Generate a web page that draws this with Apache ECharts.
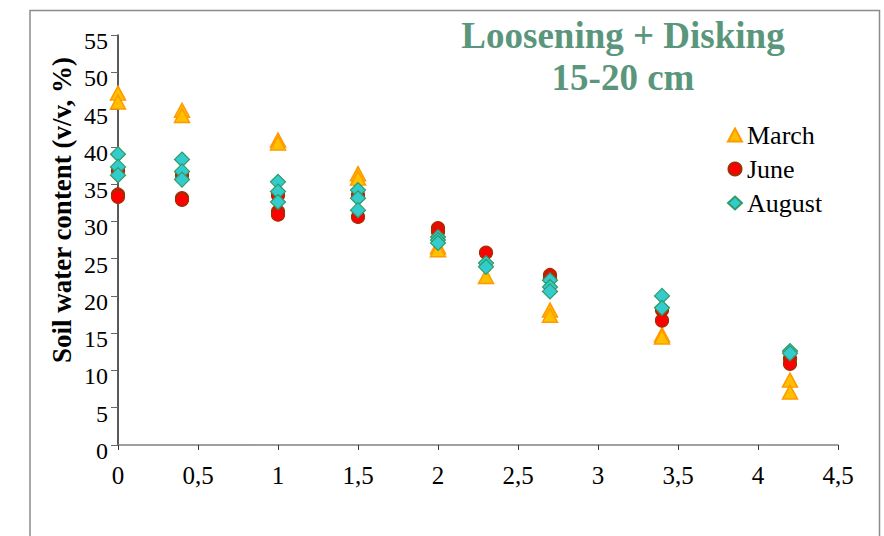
<!DOCTYPE html>
<html>
<head>
<meta charset="utf-8">
<script src="https://cdn.jsdelivr.net/npm/echarts@6/dist/echarts.min.js"></script>
<style>
html,body{margin:0;padding:0;background:#fff;}
#chart{width:884px;height:536px;}
</style>
</head>
<body>
<div id="chart"></div>
<script>
// Depth (x) positions of the sample groups
const depths = [0, 0.4, 1, 1.5, 2, 2.3, 2.7, 3.4, 4.2];
// Soil water content readings per depth (several replicates)
const march  = [[47.2, 46.0], [44.9, 44.2], [40.9, 40.5], [36.4, 35.8], [26.6, 26.2], [22.6], [18.1, 17.4], [14.8, 14.5], [8.7, 7.1]];
const june   = [[36.8, 33.6, 33.3], [36.2, 33.1, 32.9], [33.5, 31.3, 30.9], [33.5, 30.6], [29.1, 28.6], [25.8], [22.8, 22.4], [18.1, 16.7], [11.6, 10.9]];
const august = [[39.0, 37.3, 36.2], [38.3, 36.7, 35.6], [35.3, 34.0, 32.6], [34.2, 33.1, 31.5], [27.9, 27.5, 27.1], [24.4, 23.9], [22.1, 21.2, 20.6], [20.0, 18.4], [12.6, 12.3]];
const xTicks = ['0', '0,5', '1', '1,5', '2', '2,5', '3', '3,5', '4', '4,5'];
const seriesNames = ['March', 'June', 'August'];
const titleLines = ['Loosening + Disking', '15-20 cm'];
const yTitle = 'Soil water content (v/v, %)';

function toPoints(groups) {
  const out = [];
  groups.forEach((vals, i) => vals.forEach(v => out.push([depths[i], v])));
  return out;
}

const serif = '"Liberation Serif", "DejaVu Serif", serif';
const chart = echarts.init(document.getElementById('chart'), null, {renderer: 'svg'});
chart.setOption({
  animation: false,
  backgroundColor: '#fff',
  graphic: [
    {type: 'polyline', shape: {points: [[30, 540], [30, 10.5], [879.5, 10.5], [879.5, 540]]},
     style: {stroke: '#8c8c8c', lineWidth: 1.5, fill: null}, silent: true},
    {type: 'text', x: 62, y: 210, rotation: Math.PI / 2,
     style: {text: yTitle, font: 'bold 27px ' + serif, fill: '#000', textAlign: 'center', textVerticalAlign: 'middle'}}
  ],
  title: {
    text: titleLines.join('\n'),
    left: 618, top: 9, textAlign: 'center',
    textStyle: {fontFamily: serif, fontWeight: 'bold', fontSize: 37, lineHeight: 42, color: '#5a967c'}
  },
  legend: {
    orient: 'vertical', left: 722, top: 117,
    itemWidth: 14, itemHeight: 13, itemGap: 8,
    textStyle: {fontFamily: serif, fontSize: 26, color: '#000'},
    data: seriesNames
  },
  grid: {left: 118, right: 46, top: 35, bottom: 91},
  xAxis: {
    type: 'value', min: 0, max: 4.5, interval: 0.5,
    axisLine: {onZero: false, lineStyle: {color: '#808080', width: 1.5}},
    axisTick: {inside: false, length: 5, lineStyle: {color: '#333'}},
    axisLabel: {fontFamily: serif, fontSize: 25, color: '#000', margin: 18,
      formatter: v => xTicks[Math.round(v / 0.5)]},
    splitLine: {show: false}
  },
  yAxis: {
    type: 'value', min: 0, max: 55, interval: 5,
    axisLine: {show: true, lineStyle: {color: '#222', width: 1.5}},
    axisTick: {show: true, length: 7, lineStyle: {color: '#666'}},
    axisLabel: {fontFamily: serif, fontSize: 24, color: '#000', margin: 10, verticalAlign: 'top', lineHeight: 12},
    splitLine: {show: false}
  },
  series: [
    {name: seriesNames[0], type: 'scatter', symbol: 'triangle', symbolSize: [15, 14],
     itemStyle: {color: '#ffc000', borderColor: '#ff9900', borderWidth: 1.5, opacity: 1},
     data: toPoints(march)},
    {name: seriesNames[1], type: 'scatter', symbol: 'circle', symbolSize: 13,
     itemStyle: {color: '#ff0000', borderColor: '#993300', borderWidth: 1.2, opacity: 1},
     data: toPoints(june)},
    {name: seriesNames[2], type: 'scatter', symbol: 'diamond', symbolSize: 15,
     itemStyle: {color: '#33cccc', borderColor: '#339966', borderWidth: 1.2, opacity: 1},
     data: toPoints(august)}
  ]
});
</script>
</body>
</html>
